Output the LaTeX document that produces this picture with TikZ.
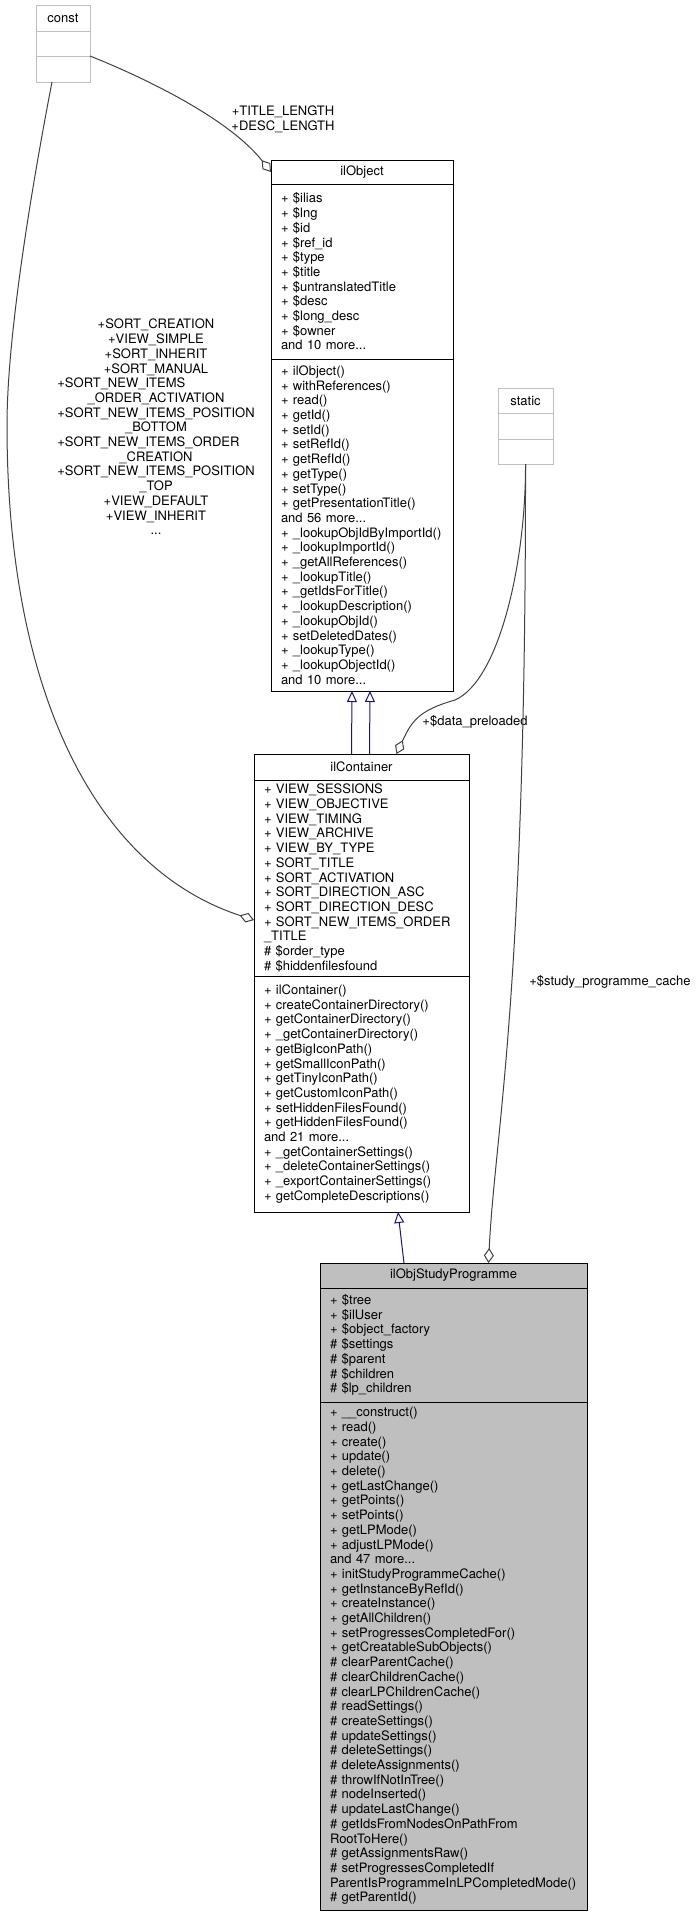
\documentclass[tikz,border=0pt]{standalone}
\usepackage{fontspec}
\setmainfont{TeX Gyre Heros}
\usepackage{tikz}
\usetikzlibrary{positioning,arrows.meta}
\definecolor{midnight}{RGB}{25,25,112}
\definecolor{edgegray}{RGB}{64,64,64}
\definecolor{boxgray}{RGB}{191,191,191}
\hyphenpenalty=10000
\exhyphenpenalty=10000

\begin{document}
\begin{tikzpicture}
      [ x = 1pt, y = -1pt
      , every node/.style =
        { font = \fontsize{13}{14.7}\selectfont }
      , classbox/.style =
        { draw, line width = 1pt, anchor = north, inner xsep = 10pt, inner ysep = 0pt, outer sep = 0pt }
      , classhead/.style =
        { classbox, align = center }
      , classbody/.style =
        { classbox, align = left }
      , lightbox/.style =
        { draw = boxgray }
      , greybox/.style =
        { fill = boxgray }
      , usage/.style =
        { edgegray, line width = 1pt, -{Diamond[open, length = 15pt, width = 10pt]} }
      , inherit/.style =
        { midnight, line width = 1pt, -{Triangle[open, length = 11pt, width = 10pt]} }
      , edgelabel/.style =
        { align = center, inner sep = 0pt }
      ]
      \useasboundingbox (0, 0) rectangle (697, 1917);
      \node [classhead, lightbox, text width = 34pt, minimum width = 54pt, minimum height = 26pt] (constcls) at (63, 5) {const};
      \node [classbody, lightbox, below = 0pt of constcls, text width = 34pt, minimum width = 54pt, minimum height = 25pt] (constattr) {\strut};
      \node [classbody, lightbox, below = 0pt of constattr, text width = 34pt, minimum width = 54pt, minimum height = 26pt] (constop) {\strut};
      \node [classhead, lightbox, text width = 35pt, minimum width = 55pt, minimum height = 25pt] (staticcls) at (525.5, 388) {static};
      \node [classbody, lightbox, below = 0pt of staticcls, text width = 35pt, minimum width = 55pt, minimum height = 26pt] (staticattr) {\strut};
      \node [classbody, lightbox, below = 0pt of staticattr, text width = 35pt, minimum width = 55pt, minimum height = 25pt] (staticop) {\strut};
      \node [classhead, text width = 162pt, minimum width = 182pt, minimum height = 24pt] (obj) at (362, 160) {ilObject};
      \node [classbody, below = 0pt of obj, text width = 162pt, minimum width = 182pt, minimum height = 175pt] (objattr)
        {+ \$ilias\\+ \$lng\\+ \$id\\+ \$ref\_id\\+ \$type\\+ \$title\\+ \$untranslatedTitle\\+ \$desc\\+ \$long\_desc\\+ \$owner\\and 10 more...};
      \node [classbody, below = 0pt of objattr, text width = 162pt, minimum width = 182pt, minimum height = 332pt] (objop)
        {+ ilObject()\\+ withReferences()\\+ read()\\+ getId()\\+ setId()\\+ setRefId()\\+ getRefId()\\+ getType()\\+ setType()\\+ getPresentationTitle()\\and 56 more...\\+ \_lookupObjIdByImportId()\\+ \_lookupImportId()\\+ \_getAllReferences()\\+ \_lookupTitle()\\+ \_getIdsForTitle()\\+ \_lookupDescription()\\+ \_lookupObjId()\\+ setDeletedDates()\\+ \_lookupType()\\+ \_lookupObjectId()\\and 10 more...};
      \node [classhead, text width = 195pt, minimum width = 215pt, minimum height = 26pt] (cont) at (361.5, 754) {ilContainer};
      \node [classbody, below = 0pt of cont, text width = 195pt, minimum width = 215pt, minimum height = 196pt] (contattr)
        {+ VIEW\_SESSIONS\\+ VIEW\_OBJECTIVE\\+ VIEW\_TIMING\\+ VIEW\_ARCHIVE\\+ VIEW\_BY\_TYPE\\+ SORT\_TITLE\\+ SORT\_ACTIVATION\\+ SORT\_DIRECTION\_ASC\\+ SORT\_DIRECTION\_DESC\\+ SORT\_NEW\_ITEMS\_ORDER\\\_TITLE\\\# \$order\_type\\\# \$hiddenfilesfound};
      \node [classbody, below = 0pt of contattr, text width = 195pt, minimum width = 215pt, minimum height = 236pt] (contop)
        {+ ilContainer()\\+ createContainerDirectory()\\+ getContainerDirectory()\\+ \_getContainerDirectory()\\+ getBigIconPath()\\+ getSmallIconPath()\\+ getTinyIconPath()\\+ getCustomIconPath()\\+ setHiddenFilesFound()\\+ getHiddenFilesFound()\\and 21 more...\\+ \_getContainerSettings()\\+ \_deleteContainerSettings()\\+ \_exportContainerSettings()\\+ getCompleteDescriptions()};
      \node [classhead, greybox, text width = 247pt, minimum width = 267pt, minimum height = 25pt] (prog) at (453.5, 1263) {ilObjStudyProgramme};
      \node [classbody, greybox, below = 0pt of prog, text width = 247pt, minimum width = 267pt, minimum height = 114pt] (progattr)
        {+ \$tree\\+ \$ilUser\\+ \$object\_factory\\\# \$settings\\\# \$parent\\\# \$children\\\# \$lp\_children};
      \node [classbody, greybox, below = 0pt of progattr, text width = 247pt, minimum width = 267pt, minimum height = 508pt] (progop)
        {+ \_\_construct()\\+ read()\\+ create()\\+ update()\\+ delete()\\+ getLastChange()\\+ getPoints()\\+ setPoints()\\+ getLPMode()\\+ adjustLPMode()\\and 47 more...\\+ initStudyProgrammeCache()\\+ getInstanceByRefId()\\+ createInstance()\\+ getAllChildren()\\+ setProgressesCompletedFor()\\+ getCreatableSubObjects()\\\# clearParentCache()\\\# clearChildrenCache()\\\# clearLPChildrenCache()\\\# readSettings()\\\# createSettings()\\\# updateSettings()\\\# deleteSettings()\\\# deleteAssignments()\\\# throwIfNotInTree()\\\# nodeInserted()\\\# updateLastChange()\\\# getIdsFromNodesOnPathFrom\\RootToHere()\\\# getAssignmentsRaw()\\\# setProgressesCompletedIf\\ParentIsProgrammeInLPCompletedMode()\\\# getParentId()};
      \node [edgelabel] (lengths) at (283, 119) {+TITLE\_LENGTH\\+DESC\_LENGTH};
      \node [edgelabel] (sorts) at (156, 427)
        {+SORT\_CREATION\\+VIEW\_SIMPLE\\+SORT\_INHERIT\\+SORT\_MANUAL\\\rlap{+SORT\_NEW\_ITEMS}\phantom{+SORT\_NEW\_ITEMS\_POSITION}\\\_ORDER\_ACTIVATION\\+SORT\_NEW\_ITEMS\_POSITION\\\_BOTTOM\\\rlap{+SORT\_NEW\_ITEMS\_ORDER}\phantom{+SORT\_NEW\_ITEMS\_POSITION}\\\_CREATION\\+SORT\_NEW\_ITEMS\_POSITION\\\_TOP\\+VIEW\_DEFAULT\\+VIEW\_INHERIT\\...};
      \node [edgelabel] (preloaded) at (475, 722) {+\$data\_preloaded};
      \node [edgelabel] (cache) at (610, 982) {+\$study\_programme\_cache};
      \draw [usage] (constattr.south east) .. controls (150, 80) and (230, 120) .. (obj.west);
      \draw [usage] ([xshift = -11pt]constop.south) .. controls (35, 170) and (7, 330) .. (7, 425) .. controls (7, 700) and (100, 870) .. ([yshift = -42pt]contattr.west);
      \draw [usage] (staticop.south) .. controls (526, 560) and (500, 680) .. (455, 700) .. controls (420, 710) and (412, 720) .. ([xshift = 35pt]cont.north);
      \draw [usage] (staticop.south) .. controls (526, 1000) and (495, 1130) .. ([xshift = 35pt]prog.north);
      \draw [inherit] ([xshift = -10pt]cont.north) to ([xshift = -10pt]objop.south);
      \draw [inherit] ([xshift = 8pt]cont.north) to ([xshift = 8pt]objop.south);
      \draw [inherit] ([xshift = -49.5pt]prog.north) to ([xshift = 36.5pt]contop.south);
    \end{tikzpicture}
\end{document}
